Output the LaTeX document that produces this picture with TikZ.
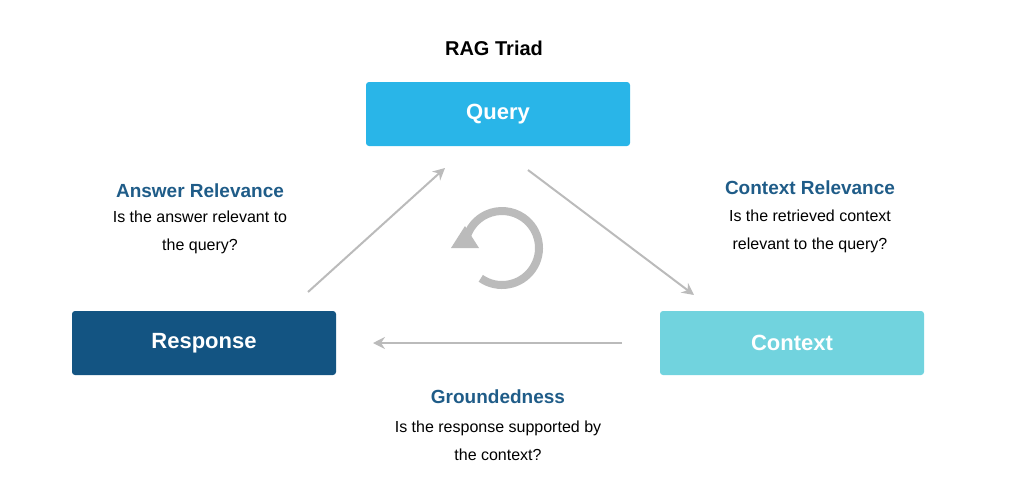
\documentclass[tikz,border=0pt]{standalone}
\usepackage{fontspec}
\setmainfont{Liberation Sans}
\usetikzlibrary{arrows.meta}
\definecolor{querycol}{HTML}{29B5E8}
\definecolor{respcol}{HTML}{135482}
\definecolor{ctxcol}{HTML}{71D3DE}
\definecolor{headcol}{HTML}{1F5C88}
\definecolor{arrcol}{HTML}{BBBBBB}
\tikzset{
  box/.style={rounded corners=3pt, minimum width=264pt, minimum height=64pt, text=white, font=\fontsize{22}{26}\selectfont\bfseries},
  head/.style={text=headcol, font=\fontsize{19}{22}\selectfont\bfseries},
  body/.style={align=center, font=\fontsize{16}{28}\selectfont},
  link/.style={draw=arrcol, line width=2pt, -{Stealth[length=12pt,width=12pt,inset=4pt]}}
}
\begin{document}
\begin{tikzpicture}[x=1pt,y=-1pt]
\useasboundingbox (0,0) rectangle (1023,496);
\node[font=\fontsize{20}{24}\selectfont\bfseries] (title) at (494,48) {RAG Triad};
\node[box, fill=querycol] (query) at (498,114) {Query};
\node[box, fill=respcol] (response) at (204,343) {Response};
\node[box, fill=ctxcol] (context) at (792,343) {Context};
% connectors
\coordinate (rq1) at (308,292);
\coordinate (rq2) at (445,168);
\coordinate (qc1) at (528,170);
\coordinate (qc2) at (694,295);
\coordinate (cr1) at (622,343);
\coordinate (cr2) at (373,343);
\draw[link] (rq1) -- (rq2);
\draw[link] (qc1) -- (qc2);
\draw[link] (cr1) -- (cr2);
% labels
\node[head] (ansh) at (200,191) {Answer Relevance};
\node[body] (ansb) at (200,232) {Is the answer relevant to\\the query?};
\node[head] (ctxh) at (810,188) {Context Relevance};
\node[body] (ctxb) at (810,231) {Is the retrieved context\\relevant to the query?};
\node[head] (grdh) at (498,397) {Groundedness};
\node[body] (grdb) at (498,441) {Is the response supported by\\the context?};
% cycle
\coordinate (cyc) at (502,248);
\draw[arrcol, line width=8pt] (cyc) ++(125:37) arc[start angle=125, end angle=-165, radius=37];
\fill[arrcol] (cyc) ++(180:37) ++(-14,0) -- ++(28,0) -- ++(-14,-22) -- cycle;
\end{tikzpicture}
\end{document}
